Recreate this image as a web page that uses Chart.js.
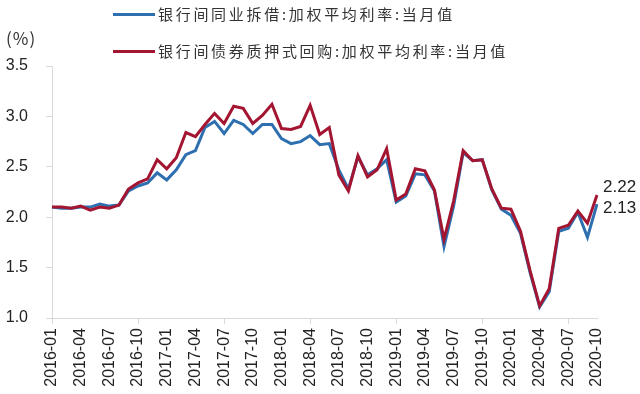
<!DOCTYPE html>
<html>
<head>
<meta charset="utf-8">
<script src="https://cdn.jsdelivr.net/npm/chart.js@4"></script>
<style>
  body { margin: 0; background: #fff; }
  #wrap { position: relative; width: 640px; height: 394px; }
  .legend { position: absolute; left: 113px; font-family: "Noto Sans CJK SC", sans-serif; font-size: 15px; letter-spacing: 2.7px; color: #333; line-height: 20px; white-space: nowrap; }
  .legend span.swatch { display: inline-block; width: 42px; height: 3px; vertical-align: middle; margin-right: 3px; position: relative; top: -1px; }
  #unit { position: absolute; left: 6px; top: 25px; font-family: "Noto Sans CJK SC", sans-serif; font-size: 17px; letter-spacing: 1px; color: #333; }
</style>
</head>
<body>
<div id="wrap">
  <canvas id="chart" width="640" height="394"></canvas>
  <div class="legend" style="top:4px"><span class="swatch" style="background:#2E6FB0"></span>银行间同业拆借:加权平均利率:当月值</div>
  <div class="legend" style="top:41px"><span class="swatch" style="background:#A31530"></span>银行间债券质押式回购:加权平均利率:当月值</div>
  <div id="unit">(%)</div>
</div>
<script>
// monthly, 2016-01 .. 2020-10
const months = [];
for (let y = 2016; y <= 2020; y++) {
  for (let m = 1; m <= 12; m++) {
    if (y === 2020 && m > 10) break;
    months.push(y + "-" + String(m).padStart(2, "0"));
  }
}

// 银行间同业拆借 加权平均利率
const lendingRate = [
  2.10, 2.09, 2.09, 2.10, 2.10, 2.13, 2.11, 2.12, 2.26, 2.31, 2.34, 2.44,
  2.37, 2.47, 2.62, 2.66, 2.89, 2.95, 2.83, 2.96, 2.92, 2.83, 2.92, 2.92,
  2.78, 2.73, 2.75, 2.81, 2.72, 2.73, 2.47, 2.28, 2.60, 2.42, 2.48, 2.57,
  2.15, 2.21, 2.43, 2.42, 2.26, 1.71, 2.11, 2.64, 2.56, 2.57, 2.27, 2.08,
  2.02, 1.84, 1.45, 1.11, 1.26, 1.86, 1.89, 2.05, 1.80, 2.13
];

// 银行间债券质押式回购 加权平均利率
const repoRate = [
  2.10, 2.10, 2.09, 2.11, 2.07, 2.10, 2.09, 2.12, 2.28, 2.34, 2.38, 2.57,
  2.48, 2.59, 2.84, 2.80, 2.92, 3.03, 2.93, 3.10, 3.08, 2.93, 3.01, 3.12,
  2.88, 2.87, 2.90, 3.11, 2.82, 2.89, 2.42, 2.26, 2.61, 2.40, 2.47, 2.68,
  2.17, 2.23, 2.48, 2.46, 2.27, 1.78, 2.16, 2.66, 2.56, 2.57, 2.28, 2.09,
  2.08, 1.86, 1.47, 1.12, 1.29, 1.89, 1.92, 2.06, 1.94, 2.22
];

const yTicks = [1.0, 1.5, 2.0, 2.5, 3.0, 3.5];

// last-value labels at the right end of each line
const endLabels = {
  id: "endLabels",
  afterDatasetsDraw(chart) {
    const c = chart.ctx;
    c.save();
    c.font = "17px 'Liberation Sans', Arial, sans-serif";
    c.fillStyle = "#222";
    c.textAlign = "left";
    c.textBaseline = "middle";
    const offs = [4, -8];
    chart.data.datasets.forEach((ds, i) => {
      const pts = chart.getDatasetMeta(i).data;
      const p = pts[pts.length - 1];
      c.fillText(ds.data[ds.data.length - 1].toFixed(2), p.x + 6, p.y + offs[i]);
    });
    c.restore();
  }
};

const ctx = document.getElementById("chart").getContext("2d");
new Chart(ctx, {
  type: "line",
  data: {
    labels: months,
    datasets: [
      { label: "银行间同业拆借:加权平均利率:当月值", data: lendingRate, borderColor: "#2E6FB0", order: 1 },
      { label: "银行间债券质押式回购:加权平均利率:当月值", data: repoRate, borderColor: "#A31530", order: 0 }
    ]
  },
  options: {
    responsive: false,
    animation: false,
    layout: { padding: { top: 66, right: 43, bottom: 0, left: 0 } },
    elements: {
      line: { borderWidth: 3, tension: 0 },
      point: { radius: 0 }
    },
    plugins: { legend: { display: false }, tooltip: { enabled: false } },
    scales: {
      x: {
        offset: false,
        afterFit: s => { s.height = 76; },
        border: { color: "#d9d9d9" },
        grid: {
          drawOnChartArea: false,
          tickLength: 6,
          color: c => (c.index % 3 === 0 ? "#d9d9d9" : "rgba(0,0,0,0)")
        },
        ticks: {
          autoSkip: false,
          maxRotation: 90,
          minRotation: 90,
          padding: 4,
          color: "#222",
          font: { family: "'Liberation Sans', Arial, sans-serif", size: 16 },
          callback: function (v, i) { return i % 3 === 0 ? this.getLabelForValue(v) : null; }
        }
      },
      y: {
        min: 1,
        max: 3.5,
        afterFit: s => { s.width = 52; },
        afterBuildTicks: s => { s.ticks = yTicks.map(v => ({ value: v })); },
        border: { color: "#d9d9d9" },
        grid: { drawOnChartArea: false, tickLength: 6, color: "#d9d9d9" },
        ticks: {
          padding: 18,
          color: "#222",
          font: { family: "'Liberation Sans', Arial, sans-serif", size: 16 },
          callback: v => v.toFixed(1)
        }
      }
    }
  },
  plugins: [endLabels]
});
</script>
</body>
</html>
